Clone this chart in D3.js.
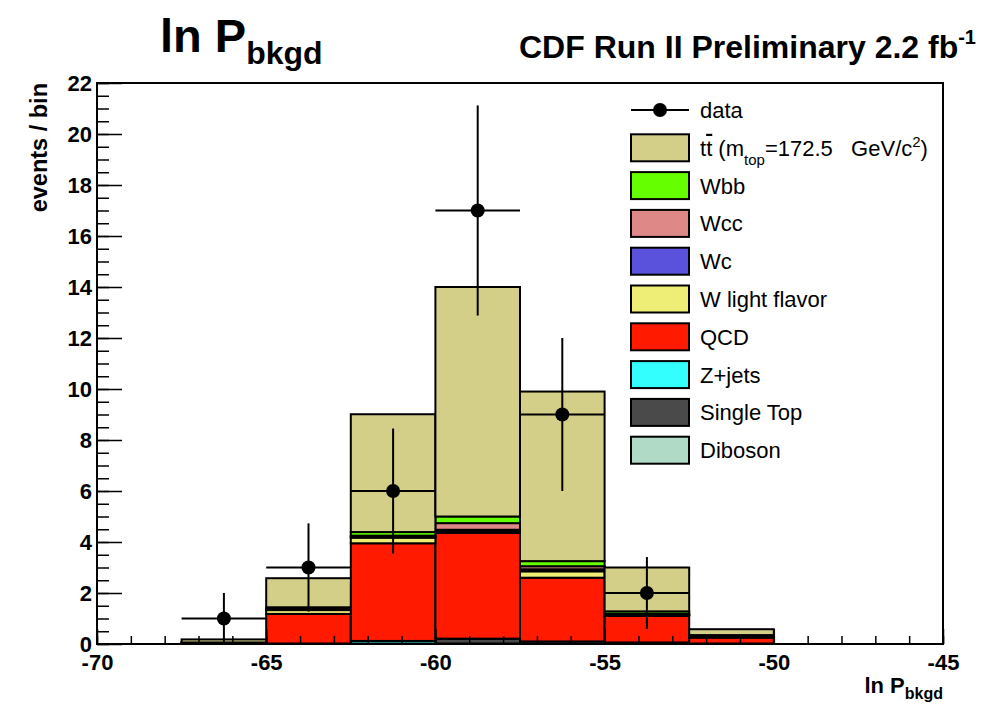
<!DOCTYPE html>
<html>
<head>
<meta charset="utf-8">
<style>
body { margin: 0; background: #fff; }
svg { display: block; font-family: "Liberation Sans", Arial, sans-serif; }
.tick text { font-family: "Liberation Sans", Arial, sans-serif; font-weight: bold; font-size: 22px; fill: #000; }
.tick line { stroke: #000; stroke-width: 1.5; }
.legend text { font-size: 22px; white-space: pre; }
</style>
</head>
<body>
<svg id="chart" width="1004" height="704"></svg>
<script src="https://d3js.org/d3.v7.min.js"></script>
<script>

// bins of the histogram (lower edges), width 2.5
var binLow = [-67.5, -65, -62.5, -60, -57.5, -55, -52.5]
var binWidth = 2.5

// background components, stacked bottom -> top
var diboson   = [0.01, 0.01, 0.01, 0.02, 0.01, 0.01, 0.00]
var singleTop = [0.02, 0.01, 0.01, 0.18, 0.09, 0.05, 0.02]
var zjets     = [0.00, 0.00, 0.10, 0.01, 0.00, 0.00, 0.00]
var qcd       = [0.02, 1.16, 3.83, 4.15, 2.50, 1.04, 0.23]
var wlight    = [0.01, 0.15, 0.22, 0.06, 0.25, 0.03, 0.03]
var wc        = [0.00, 0.03, 0.03, 0.06, 0.08, 0.02, 0.02]
var wcc       = [0.00, 0.03, 0.05, 0.26, 0.12, 0.03, 0.02]
var wbb       = [0.00, 0.05, 0.14, 0.26, 0.20, 0.10, 0.03]
var ttbar     = [0.12, 1.14, 4.62, 9.00, 6.65, 1.72, 0.23]

// observed data
var dataLow = [-67.5, -65, -62.5, -60, -57.5, -55]
var dataCounts = [1, 3, 6, 17, 9, 2]
var dataErr = [1, 1.73, 2.45, 4.12, 3, 1.41]

var xTicks = [-70, -65, -60, -55, -50, -45]
var yTicks = [0, 2, 4, 6, 8, 10, 12, 14, 16, 18, 20, 22]

var series = [
  {key: "diboson", values: diboson, color: "#b0d9c6", label: "Diboson"},
  {key: "singleTop", values: singleTop, color: "#4a4a4a", label: "Single Top"},
  {key: "zjets", values: zjets, color: "#33ffff", label: "Z+jets"},
  {key: "qcd", values: qcd, color: "#ff1a00", label: "QCD"},
  {key: "wlight", values: wlight, color: "#eeee77", label: "W light flavor"},
  {key: "wc", values: wc, color: "#5a52dc", label: "Wc"},
  {key: "wcc", values: wcc, color: "#de8888", label: "Wcc"},
  {key: "wbb", values: wbb, color: "#66ff00", label: "Wbb"},
  {key: "ttbar", values: ttbar, color: "#d3ce88", label: "tt"}
]

var rows = binLow.map(function(lo, i) {
  var r = {lo: lo}
  series.forEach(function(s) { r[s.key] = s.values[i] })
  return r
})

var plotLeft = 97, plotRight = 943, plotTop = 83, plotBottom = 644

var svg = d3.select("#chart")

var x = d3.scaleLinear().domain([-70, -45]).range([plotLeft, plotRight])
var y = d3.scaleLinear().domain([0, 22]).range([plotBottom, plotTop])

var stack = d3.stack().keys(series.map(function(s) { return s.key }))
var layers = stack(rows)

// histograms
svg.append("g").selectAll("g")
  .data(layers)
  .enter().append("g")
    .attr("fill", function(d, i) { return series[i].color })
  .selectAll("rect")
  .data(function(d) { return d })
  .enter().append("rect")
    .attr("x", function(d) { return x(d.data.lo) })
    .attr("width", function(d) { return x(d.data.lo + binWidth) - x(d.data.lo) })
    .attr("y", function(d) { return y(d[1]) })
    .attr("height", function(d) { return y(d[0]) - y(d[1]) })
    .attr("stroke", "#000")
    .attr("stroke-width", 2)

// axes, ticks inside the frame
var yMinor = d3.range(0, 22.01, 0.5)
var xMinor = d3.range(-70, -44.99, 1)
var fmt = function(d) { return String(d) }

svg.append("g")
  .attr("transform", "translate(" + plotLeft + ",0)")
  .call(d3.axisLeft(y).tickValues(yMinor).tickSize(-12).tickFormat(""))
  .call(function(g) { g.select(".domain").remove() })

svg.append("g")
  .attr("transform", "translate(" + plotLeft + ",0)")
  .call(d3.axisLeft(y).tickValues(yTicks).tickSize(-25).tickPadding(5).tickFormat(fmt))
  .call(function(g) { g.select(".domain").remove() })

svg.append("g")
  .attr("transform", "translate(0," + plotBottom + ")")
  .call(d3.axisBottom(x).tickValues(xMinor).tickSize(-8).tickFormat(""))
  .call(function(g) { g.select(".domain").remove() })

svg.append("g")
  .attr("transform", "translate(0," + plotBottom + ")")
  .call(d3.axisBottom(x).tickValues(xTicks).tickSize(-15).tickPadding(10).tickFormat(fmt))
  .call(function(g) { g.select(".domain").remove() })

svg.selectAll(".tick text").attr("font-size", null).attr("font-family", null)

// frame
svg.append("rect")
  .attr("x", plotLeft).attr("y", plotTop)
  .attr("width", plotRight - plotLeft).attr("height", plotBottom - plotTop)
  .attr("fill", "none").attr("stroke", "#000").attr("stroke-width", 2)

// data points
var pts = svg.append("g").selectAll("g")
  .data(dataCounts)
  .enter().append("g")

pts.append("line")
  .attr("x1", function(d, i) { return x(dataLow[i]) })
  .attr("x2", function(d, i) { return x(dataLow[i] + binWidth) })
  .attr("y1", function(d) { return y(d) })
  .attr("y2", function(d) { return y(d) })
  .attr("stroke", "#000").attr("stroke-width", 2)

pts.append("line")
  .attr("x1", function(d, i) { return x(dataLow[i] + binWidth / 2) })
  .attr("x2", function(d, i) { return x(dataLow[i] + binWidth / 2) })
  .attr("y1", function(d, i) { return y(d - dataErr[i]) })
  .attr("y2", function(d, i) { return y(d + dataErr[i]) })
  .attr("stroke", "#000").attr("stroke-width", 2)

pts.append("circle")
  .attr("cx", function(d, i) { return x(dataLow[i] + binWidth / 2) })
  .attr("cy", function(d) { return y(d) })
  .attr("r", 7)
  .attr("fill", "#000")

// titles
var t1 = svg.append("text")
  .attr("x", 160).attr("y", 52)
  .attr("font-size", 47).attr("font-weight", "bold")
t1.append("tspan").text("ln P")
t1.append("tspan").attr("dy", 12).attr("font-size", 32).text("bkgd")

var t2 = svg.append("text")
  .attr("x", 519).attr("y", 58)
  .attr("font-size", 32).attr("font-weight", "bold")
t2.append("tspan").text("CDF Run II Preliminary 2.2 fb")
t2.append("tspan").attr("dy", -14).attr("font-size", 20).text("-1")

svg.append("text")
  .attr("transform", "translate(47," + plotTop + ") rotate(-90)")
  .attr("text-anchor", "end")
  .attr("font-size", 23.5).attr("font-weight", "bold")
  .text("events / bin")

var xt = svg.append("text")
  .attr("x", plotRight).attr("y", 693)
  .attr("text-anchor", "end")
  .attr("font-size", 22).attr("font-weight", "bold")
xt.append("tspan").text("ln P")
xt.append("tspan").attr("dy", 6).attr("font-size", 16).text("bkgd")

// legend
var legTop = 110, legStep = 37.8, boxX = 631, boxW = 58, boxH = 27, textX = 700
var legend = svg.append("g").attr("class", "legend")

legend.append("line")
  .attr("x1", boxX).attr("x2", boxX + boxW)
  .attr("y1", legTop).attr("y2", legTop)
  .attr("stroke", "#000").attr("stroke-width", 2)
legend.append("circle")
  .attr("cx", boxX + boxW / 2).attr("cy", legTop).attr("r", 7).attr("fill", "#000")
legend.append("text").attr("x", textX).attr("y", legTop + 8).text("data")

var legSeries = series.slice().reverse()
var items = legend.selectAll(".item")
  .data(legSeries)
  .enter().append("g")
    .attr("class", "item")
    .attr("transform", function(d, i) { return "translate(0," + (legTop + legStep * (i + 1)) + ")" })

items.append("rect")
  .attr("x", boxX).attr("y", -boxH / 2)
  .attr("width", boxW).attr("height", boxH)
  .attr("fill", function(d) { return d.color })
  .attr("stroke", "#000").attr("stroke-width", 2)

items.filter(function(d) { return d.key != "ttbar" })
  .append("text").attr("x", textX).attr("y", 8).text(function(d) { return d.label })

var tt = items.filter(function(d) { return d.key == "ttbar" })
  .append("text").attr("x", textX).attr("y", 8)
tt.append("tspan").text("t")
tt.append("tspan").style("text-decoration", "overline").text("t")
tt.append("tspan").text(" (m")
tt.append("tspan").attr("dy", 9).attr("font-size", 15).text("top")
tt.append("tspan").attr("dy", -9).text("=172.5   GeV/c")
tt.append("tspan").attr("dy", -9).attr("font-size", 15).text("2")
tt.append("tspan").attr("dy", 9).text(")")

</script>
</body>
</html>
